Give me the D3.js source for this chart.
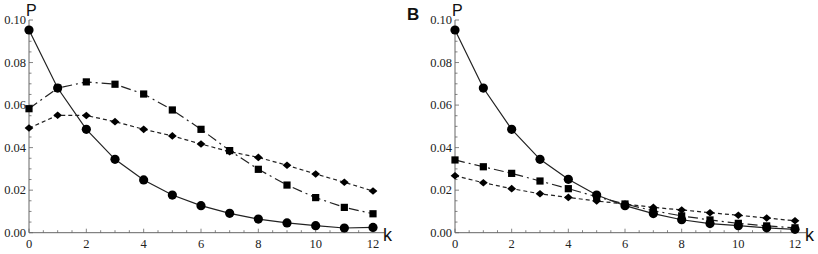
<!DOCTYPE html>
<html lang="en">
<head>
<meta charset="UTF-8" />
<style>
  body { margin: 0; background: #fff; }
  svg { display: block; }
</style>
</head>
<body>
<svg id="chart" width="818" height="254"></svg>
<script src="https://d3js.org/d3.v7.min.js"></script>
<script>
// k values shared by both panels
var kValues = [0, 1, 2, 3, 4, 5, 6, 7, 8, 9, 10, 11, 12];

// panel A
var circlesA  = [0.0953, 0.0680, 0.0486, 0.0345, 0.0248, 0.0177, 0.0127, 0.0091, 0.0064, 0.0046, 0.0033, 0.0022, 0.0025];
var squaresA  = [0.0583, 0.0680, 0.0709, 0.0698, 0.0652, 0.0577, 0.0486, 0.0386, 0.0298, 0.0224, 0.0165, 0.0119, 0.0089];
var diamondsA = [0.0492, 0.0552, 0.0551, 0.0522, 0.0486, 0.0455, 0.0417, 0.0381, 0.0354, 0.0317, 0.0276, 0.0237, 0.0196];

// panel B
var circlesB  = [0.0953, 0.0680, 0.0486, 0.0345, 0.0251, 0.0177, 0.0127, 0.0090, 0.0061, 0.0043, 0.0033, 0.0023, 0.0016];
var squaresB  = [0.0342, 0.0310, 0.0279, 0.0243, 0.0207, 0.0169, 0.0135, 0.0103, 0.0079, 0.0060, 0.0044, 0.0032, 0.0023];
var diamondsB = [0.0268, 0.0235, 0.0207, 0.0183, 0.0166, 0.0149, 0.0135, 0.0119, 0.0107, 0.0094, 0.0082, 0.0069, 0.0056];

var xTicks = [0, 2, 4, 6, 8, 10, 12];
var yTicks = [0, 0.02, 0.04, 0.06, 0.08, 0.10];

var serif = "'Liberation Serif', 'Times New Roman', 'DejaVu Serif', serif";
var sans = "'Liberation Sans', Arial, sans-serif";

var svg = d3.select("#chart");

function drawPanel(left, right, series, label) {
    var x = d3.scaleLinear().domain([0, 12]).range([left, right]);
    var y = d3.scaleLinear().domain([0, 0.1]).range([232.7, 20]);
    var g = svg.append("g");

    // axes lines
    g.append("line").attr("x1", x(0)).attr("x2", x(12.4)).attr("y1", y(0)).attr("y2", y(0))
        .attr("stroke", "#666").attr("stroke-width", 1);
    g.append("line").attr("x1", x(0)).attr("x2", x(0)).attr("y1", y(0)).attr("y2", y(0.1))
        .attr("stroke", "#666").attr("stroke-width", 1);

    // x ticks (major every 2, minor every 0.5)
    d3.range(0, 12.01, 0.5).forEach(function (v) {
        var major = Math.abs(v % 2) < 1e-6;
        g.append("line").attr("x1", x(v)).attr("x2", x(v))
            .attr("y1", y(0)).attr("y2", y(0) - (major ? 4 : 2.5))
            .attr("stroke", "#666").attr("stroke-width", 0.8);
    });
    // y ticks (major every 0.02, minor every 0.005)
    d3.range(0, 0.1001, 0.005).forEach(function (v) {
        var major = Math.abs((v / 0.02) - Math.round(v / 0.02)) < 1e-6;
        g.append("line").attr("x1", x(0)).attr("x2", x(0) + (major ? 4 : 2.5))
            .attr("y1", y(v)).attr("y2", y(v))
            .attr("stroke", "#666").attr("stroke-width", 0.8);
    });

    g.selectAll(".xl").data(xTicks).enter().append("text")
        .attr("font-family", serif).attr("font-size", 12.5).attr("fill", "#222")
        .attr("x", d => x(d)).attr("y", y(0) + 15)
        .attr("text-anchor", "middle").text(d => d);
    g.selectAll(".yl").data(yTicks).enter().append("text")
        .attr("font-family", serif).attr("font-size", 12.5).attr("fill", "#222")
        .attr("x", x(0) - 3).attr("y", d => y(d) + 4)
        .attr("text-anchor", "end").text(d => d3.format(".2f")(d));

    g.append("text").attr("font-family", sans).attr("font-size", 16).attr("fill", "#111")
        .attr("x", x(0) - 3).attr("y", 16).text("P");
    g.append("text").attr("font-family", sans).attr("font-size", 18).attr("fill", "#111")
        .attr("x", x(12) + 10).attr("y", y(0) + 8).text("k");
    if (label) {
        g.append("text").attr("x", 407).attr("y", 20)
            .attr("font-family", sans)
            .attr("font-weight", "bold").attr("font-size", 17).attr("fill", "#111").text(label);
    }

    var line = d3.line().x((d, i) => x(kValues[i])).y(d => y(d));

    // diamonds: short dashes
    g.append("path").datum(series.diamonds).attr("d", line).attr("fill", "none")
        .attr("stroke", "#222").attr("stroke-width", 1.2).attr("stroke-dasharray", "4,3");
    // squares: long dash-dot
    g.append("path").datum(series.squares).attr("d", line).attr("fill", "none")
        .attr("stroke", "#222").attr("stroke-width", 1.2).attr("stroke-dasharray", "10,4,2,4");
    // circles: solid
    g.append("path").datum(series.circles).attr("d", line).attr("fill", "none")
        .attr("stroke", "#222").attr("stroke-width", 1.2);

    g.selectAll(".dia").data(series.diamonds).enter().append("path")
        .attr("d", "M0,-3.8L4.4,0L0,3.8L-4.4,0Z")
        .attr("transform", (d, i) => "translate(" + x(kValues[i]) + "," + y(d) + ")")
        .attr("fill", "#000");
    g.selectAll(".sq").data(series.squares).enter().append("rect")
        .attr("x", (d, i) => x(kValues[i]) - 3.6).attr("y", d => y(d) - 3.6)
        .attr("width", 7.2).attr("height", 7.2).attr("fill", "#000");
    g.selectAll(".ci").data(series.circles).enter().append("circle")
        .attr("cx", (d, i) => x(kValues[i])).attr("cy", d => y(d))
        .attr("r", 4.6).attr("fill", "#000");
}

drawPanel(29, 373, { circles: circlesA, squares: squaresA, diamonds: diamondsA }, null);
drawPanel(455, 795, { circles: circlesB, squares: squaresB, diamonds: diamondsB }, "B");
</script>
</body>
</html>
